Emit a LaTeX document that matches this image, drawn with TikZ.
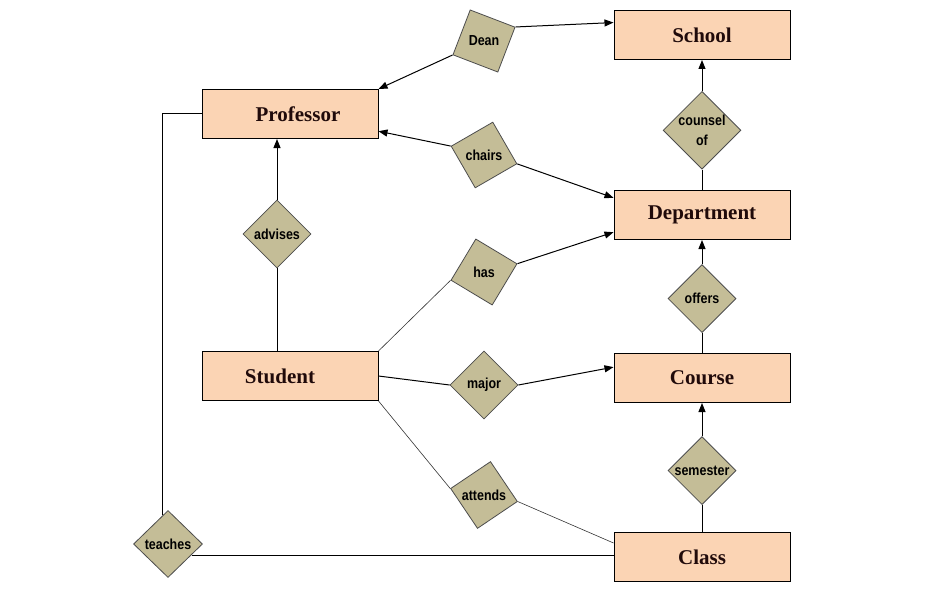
\documentclass[tikz,border=0pt]{standalone}
\usepackage{fontspec}
\setmainfont{Liberation Serif}
\newfontfamily\relfont[FakeStretch=0.86, BoldFeatures={FakeStretch=0.86}]{Liberation Sans}
\usetikzlibrary{shapes.geometric, arrows.meta, positioning}

\definecolor{entityfill}{HTML}{FBD4B4}
\definecolor{entitytext}{HTML}{200A0A}
\definecolor{relfill}{HTML}{C4BD97}
\definecolor{reldraw}{HTML}{4D4D4D}

\begin{document}
\begin{tikzpicture}[
    x=1pt, y=1pt,
    entity/.style={rectangle, draw=black, fill=entityfill, line width=1pt, minimum width=176pt, minimum height=49pt, inner sep=0pt, text=entitytext, font=\fontsize{21}{24}\selectfont\bfseries},
    relation/.style={diamond, draw=reldraw, fill=relfill, line width=0.8pt, minimum width=68pt, minimum height=68pt, inner sep=0pt, align=center, font=\relfont\fontsize{14.5}{20}\selectfont\bfseries},
    tilted/.style={rectangle, draw=reldraw, fill=relfill, line width=0.8pt, minimum size=48pt, inner sep=0pt, rotate=#1, font=\relfont\fontsize{14.5}{20}\selectfont\bfseries},
    arrow/.style={-{Triangle[length=9pt, width=7pt]}, line width=1pt},
    link/.style={line width=1pt},
    thinlink/.style={line width=0.6pt, draw=black!80}
]
\useasboundingbox (0,0) rectangle (928,-599);

% Entities
\node[entity] (School) at (702,-35) {School};
\node[entity, below=130pt of School] (Department) {Department};
\node[entity, below=113pt of Department] (Course) {Course};
\node[entity, below=129pt of Course] (Class) {Class};
\node[entity] (Professor) at (290,-114) {\hspace{16pt}Professor};
\node[entity, below=212pt of Professor] (Student) {Student\hspace*{20pt}};

% Relationships
\node[relation, below=31pt of School] (counsel) {counsel\\of};
\node[relation, above=20pt of Course] (offers) {offers};
\node[relation, above=27pt of Class] (semester) {semester};
\node[relation] (advises) at (277,-234) {advises};
\node[relation] (major) at (484,-385) {major};
\node[relation, minimum width=69pt, minimum height=67pt] (teaches) at (168,-544) {teaches};
\node[tilted=-21] (Dean) at (484,-41) {\rotatebox{21}{Dean}};
\node[tilted=30] (chairs) at (484,-155) {\rotatebox{-30}{chairs}};
\node[tilted=-31] (has) at (484,-272) {\rotatebox{31}{has}};
\node[tilted=34] (attends) at (484,-495) {\rotatebox{-34}{attends}};

% Middle connectors
\draw[arrow] (Dean.south west) -- (Professor.north east);
\draw[arrow] (Dean.north east) -- (School.172);
\draw[arrow] (chairs.north west) -- (Professor.-11);
\draw[arrow] (chairs.south east) -- (Department.169);
\draw[thinlink] (Student.north east) -- (has.south west);
\draw[arrow] (has.north east) -- (Department.191);
\draw[link] (Student.east) -- (major.west);
\draw[arrow] (major.east) -- (Course.173);
\draw[thinlink] (Student.south east) -- (attends.north west);
\draw[thinlink] (attends.south east) -- (Class.171);

% Right column
\draw[link] (Department.north) -- (counsel.south);
\draw[arrow] (counsel.north) -- (School.south);
\draw[link] (Course.north) -- (offers.south);
\draw[arrow] (offers.north) -- (Department.south);
\draw[link] (Class.north) -- (semester.south);
\draw[arrow] (semester.north) -- (Course.south);

% Left side
\draw[link] (advises.south) -- (advises.south |- Student.north);
\draw[arrow] (advises.north) -- (advises.north |- Professor.south);
\draw[link] (Professor.west) -| (teaches.100);
\draw[link] (teaches.-25) -- (teaches.-25 -| Class.west);

\end{tikzpicture}
\end{document}
